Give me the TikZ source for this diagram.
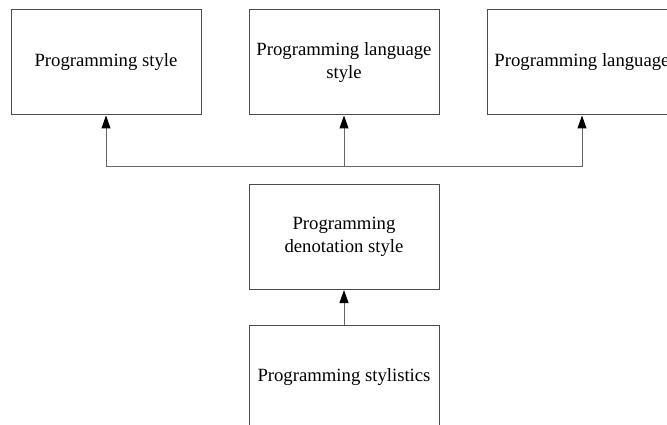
\documentclass[tikz,border=0pt]{standalone}
\usepackage{fontspec}
\setmainfont{Liberation Serif}
\usetikzlibrary{arrows.meta}
\begin{document}
\begin{tikzpicture}[x=1pt,y=-1pt,
  box/.style={draw=black!70, line width=1pt, minimum width=190pt, minimum height=105pt,
    inner sep=0pt, align=center, font=\fontsize{18.7}{23}\selectfont},
  wire/.style={draw=black!60, line width=1pt},
  link/.style={wire, -{Triangle[length=13pt,width=9pt,color=black]}}]
\useasboundingbox (0,0) rectangle (667,425);
\clip (0,0) rectangle (667,425);
% boxes
\node[box] (ps)  at (106,62.5)  {Programming style};
\node[box] (pls) at (344,62.5)  {Programming language\\style};
\node[box] (pl)  at (582,62.5)  {Programming language};
\node[box] (pds) at (344,237)   {Programming\\denotation style};
\node[box] (pst) at (344,377.5) {Programming stylistics};
% shared bus feeding the three top boxes
\coordinate (j) at (344,167);
\coordinate (jl) at (ps.south |- j);
\coordinate (jr) at (pl.south |- j);
\draw[wire] (jl) -- (jr);
\draw[link] (jl) -- (ps.south);
\draw[link] (j) -- (pls.south);
\draw[link] (jr) -- (pl.south);
\draw[link] (pst.north) -- (pds.south);
\end{tikzpicture}
\end{document}
